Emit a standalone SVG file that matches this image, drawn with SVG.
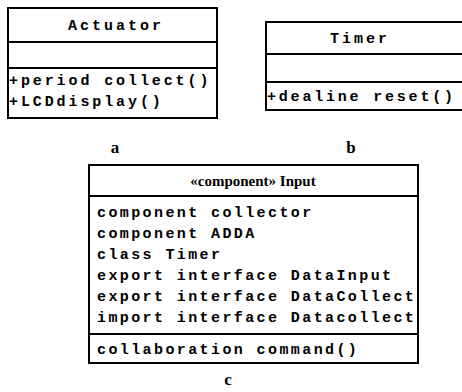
<svg xmlns="http://www.w3.org/2000/svg" width="462" height="392" viewBox="0 0 462 392">
<style>
.box{fill:#fff;stroke:#000;stroke-width:2}
.ln{stroke:#000;stroke-width:2;fill:none}
.m{font-family:"Liberation Mono","DejaVu Sans Mono",monospace;font-weight:bold;font-size:15px;letter-spacing:2.4px;fill:#000}
.ma{letter-spacing:2.9px}
.t{font-family:"Liberation Mono","DejaVu Sans Mono",monospace;font-weight:bold;font-size:15px;letter-spacing:3px;fill:#000;text-anchor:middle}
.s{font-family:"Liberation Serif","DejaVu Serif",serif;font-weight:bold;font-size:15px;fill:#000;text-anchor:middle}
.lbl{font-family:"Liberation Serif","DejaVu Serif",serif;font-weight:bold;font-size:17px;fill:#000;text-anchor:middle}
</style>
<rect width="462" height="392" fill="#fff"/>
<g id="actuator">
<rect class="box" x="8" y="8" width="209" height="110"/>
<line class="ln" x1="8" y1="42" x2="217" y2="42"/>
<line class="ln" x1="8" y1="68" x2="217" y2="68"/>
<text class="t" x="116" y="30">Actuator</text>
<text class="m ma" x="9" y="85">+period collect()</text>
<text class="m ma" x="9" y="106">+LCDdisplay()</text>
</g>
<g id="timer">
<path class="ln" d="M463 22 H266 V110 H463"/>
<line class="ln" x1="266" y1="54" x2="462" y2="54"/>
<line class="ln" x1="266" y1="82" x2="462" y2="82"/>
<text class="t" x="360" y="43">Timer</text>
<text class="m" x="267" y="101" style="letter-spacing:2.8px">+dealine reset()</text>
</g>
<g id="input">
<rect class="box" x="89" y="165" width="329" height="198"/>
<line class="ln" x1="89" y1="196" x2="418" y2="196"/>
<line class="ln" x1="89" y1="334" x2="418" y2="334"/>
<text class="s" x="253" y="186">«component» Input</text>
<text class="m" x="97" y="217">component collector</text>
<text class="m" x="97" y="238">component ADDA</text>
<text class="m" x="97" y="259">class Timer</text>
<text class="m" x="97" y="280">export interface DataInput</text>
<text class="m" x="97" y="301">export interface DataCollect</text>
<text class="m" x="97" y="322">import interface Datacollect</text>
<text class="m" x="97" y="354">collaboration command()</text>
</g>
<g id="labels">
<text class="lbl" x="115" y="153">a</text>
<text class="lbl" x="351" y="153">b</text>
<text class="lbl" x="228" y="385">c</text>
</g>
<g id="connectors"></g>
</svg>
